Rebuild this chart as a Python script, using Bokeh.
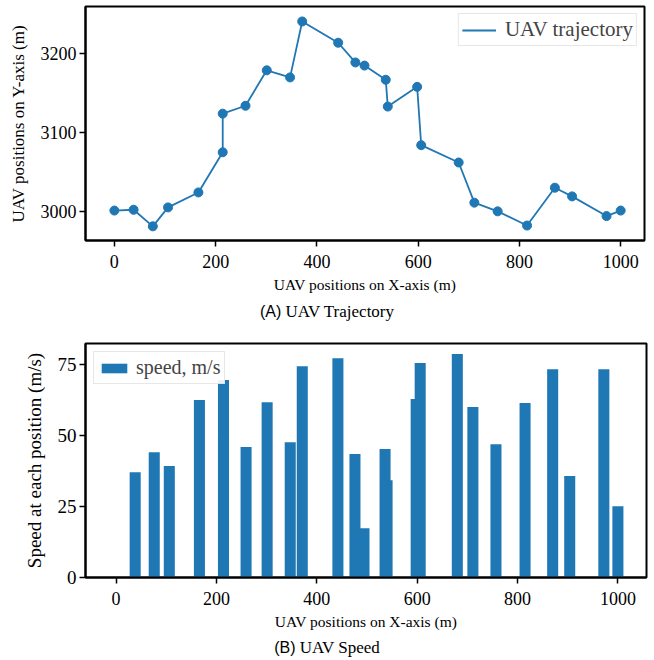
from bokeh.plotting import figure
from bokeh.models import Range1d, FixedTicker, Legend, LegendItem, Div
from bokeh.layouts import column
from bokeh.embed import file_html
from bokeh.resources import INLINE

# ---- data ----
pos_x = [0, 38, 76, 106, 166, 214, 214, 259, 301, 347, 371, 442, 476, 494,
         536, 540, 598, 606, 680, 711, 757, 815, 870, 904, 972, 1000]
pos_y = [3001, 3002, 2981, 3005, 3024, 3075, 3124, 3134, 3179, 3170, 3241,
         3214, 3189, 3185, 3167, 3133, 3158, 3084, 3062, 3011, 3000, 2982,
         3030, 3019, 2994, 3001]
# speed at each position (positions 1..25)
speed = [37.1, 44.2, 39.3, 62.6, 50.0, 69.6, 46.0, 61.8, 47.7, 74.5, 77.3,
         43.5, 17.4, 45.3, 34.3, 62.9, 75.6, 78.8, 60.1, 47.0, 61.5, 73.4,
         35.8, 73.4, 25.1]
speed_x = pos_x[1:]
x_ticks = [0, 200, 400, 600, 800, 1000]
y_ticks_traj = [3000, 3100, 3200]
y_ticks_speed = [0, 25, 50, 75]

BLUE = "#1f77b4"
SERIF = "Liberation Serif"
SANS = "Liberation Sans"


def style(p, xlabel, ylabel, ytick_size, ylabel_size):
    p.xgrid.visible = False
    p.ygrid.visible = False
    p.outline_line_color = "black"
    p.outline_line_width = 2
    p.outline_line_alpha = 1
    for ax in (p.xaxis[0], p.yaxis[0]):
        ax.axis_line_width = 2
        ax.axis_line_color = "black"
        ax.major_tick_in = 0
        ax.major_tick_out = 6
        ax.major_tick_line_width = 1.5
        ax.minor_tick_line_color = None
        ax.major_label_text_font = SERIF
        ax.major_label_text_color = "black"
        ax.axis_label_text_font = SERIF
        ax.axis_label_text_font_style = "normal"
        ax.axis_label_text_color = "black"
    p.xaxis[0].axis_label = xlabel
    p.xaxis[0].axis_label_text_font_size = "15.5px"
    p.xaxis[0].major_label_text_font_size = "18px"
    p.xaxis[0].major_label_standoff = 8
    p.xaxis[0].axis_label_standoff = 5
    p.xaxis[0].ticker = FixedTicker(ticks=x_ticks)
    p.yaxis[0].axis_label = ylabel
    p.yaxis[0].axis_label_text_font_size = ylabel_size
    p.yaxis[0].major_label_text_font_size = ytick_size
    p.yaxis[0].major_label_standoff = 3
    p.yaxis[0].axis_label_standoff = 10


# ---- (A) trajectory ----
p1 = figure(frame_width=559, frame_height=234, x_range=Range1d(-57, 1047),
            y_range=Range1d(2963, 3260), output_backend="svg",
            toolbar_location=None, min_border_left=85, min_border_right=10,
            min_border_top=6, min_border_bottom=58)
style(p1, "UAV positions on X-axis (m)", "UAV positions on Y-axis (m)",
      "18px", "17px")
p1.yaxis[0].ticker = FixedTicker(ticks=y_ticks_traj)
line_r = p1.line(pos_x, pos_y, line_width=1.8, color=BLUE)
p1.scatter(pos_x, pos_y, size=9, color=BLUE)
leg1 = Legend(items=[LegendItem(label="UAV trajectory", renderers=[line_r])],
              location="top_right", margin=7, padding=3, spacing=0,
              label_text_font=SERIF, label_text_font_size="21px",
              label_height=18, glyph_height=18, glyph_width=34,
              label_standoff=9, border_line_color="#d0d0d0",
              border_line_width=1, background_fill_alpha=0.9)
p1.add_layout(leg1)

cap1 = Div(text='<div style="text-align:center;width:654px;font-family:\'Liberation Serif\',serif;font-size:17px;line-height:27px">'
                '<span style="font-family:\'Liberation Sans\',sans-serif;font-size:16px">(A)</span> UAV Trajectory</div>',
           width=654, height=27, margin=(0, 0, 0, 0))

# ---- (B) speed ----
p2 = figure(frame_width=561, frame_height=234, x_range=Range1d(-61, 1057),
            y_range=Range1d(0, 82.5), output_backend="svg",
            toolbar_location=None, min_border_left=85, min_border_right=8,
            min_border_top=18, min_border_bottom=58)
style(p2, "UAV positions on X-axis (m)", "Speed at each position (m/s)",
      "19px", "19px")
p2.yaxis[0].ticker = FixedTicker(ticks=y_ticks_speed)
bar_r = p2.vbar(x=speed_x, top=speed, width=22, bottom=0,
                fill_color=BLUE, line_color=None)
leg2 = Legend(items=[LegendItem(label="speed, m/s", renderers=[bar_r])],
              location="top_left", margin=8, padding=4, spacing=0,
              label_text_font=SERIF, label_text_font_size="20px",
              label_height=18, glyph_height=12, glyph_width=32,
              label_standoff=6, border_line_color="#d0d0d0",
              border_line_width=1, background_fill_alpha=0.9)
p2.add_layout(leg2)

cap2 = Div(text='<div style="text-align:center;width:654px;font-family:\'Liberation Serif\',serif;font-size:17px;line-height:25px">'
                '<span style="font-family:\'Liberation Sans\',sans-serif;font-size:16px">(B)</span> UAV Speed</div>',
           width=654, height=25, margin=(0, 0, 0, 0))

layout = column(p1, cap1, p2, cap2, spacing=0)
open("out.html", "w").write(file_html(layout, INLINE))
